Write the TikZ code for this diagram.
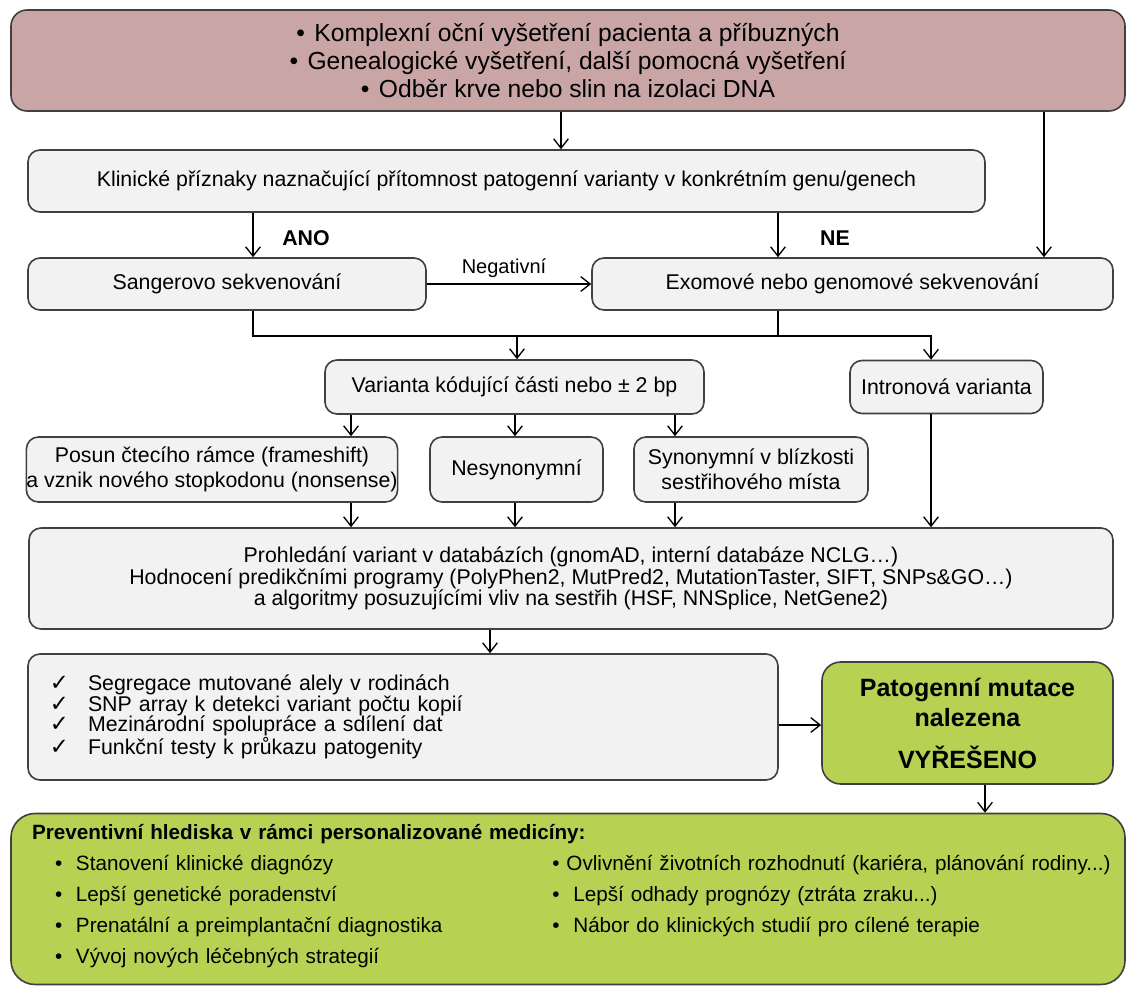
\documentclass[tikz,border=0pt]{standalone}
\usepackage{fontspec}
\setmainfont{Liberation Sans}
\newfontfamily\symfont{DejaVu Sans}
\usetikzlibrary{arrows.meta}
\definecolor{rosybox}{RGB}{201,165,165}
\definecolor{limebox}{RGB}{183,209,82}
\definecolor{greybox}{RGB}{242,242,242}
\definecolor{edgegrey}{RGB}{64,64,64}
\setlength{\lineskiplimit}{-20pt}

\tikzset{
  stage/.style={draw=edgegrey, line width=1.2pt, fill=greybox, rounded corners=9pt,
    inner sep=0pt, align=center, font=\fontsize{16}{19}\selectfont},
  conn/.style={line width=1pt, -{Straight Barb[length=7pt,width=11pt]}},
  plain/.style={line width=1pt},
  flag/.style={font=\bfseries\fontsize{16}{19}\selectfont},
}
\newcommand{\tick}{\makebox[28.5pt][l]{\symfont\fontsize{17}{15}\selectfont ✓}}

\begin{document}
\begin{tikzpicture}[x=0.75pt,y=-0.75pt]
            \useasboundingbox (0,0) rectangle (1129,988);
            % column positions of the connectors
            \coordinate (xa) at (561,0);
            \coordinate (xb) at (1044,0);
            \coordinate (xc) at (253,0);
            \coordinate (xd) at (778,0);
            \coordinate (xe) at (517,0);
            \coordinate (xf) at (931,0);
            \coordinate (k1) at (351,0);
            \coordinate (k2) at (515,0);
            \coordinate (k3) at (675,0);
            \coordinate (xg) at (490,0);
            \coordinate (xh) at (985,0);
            \coordinate (jn) at (0,336);
            \coordinate (yh) at (0,725);

            \node[stage, fill=rosybox, rounded corners=12pt, minimum width=1114*0.75pt, minimum height=101*0.75pt,
                  font=\fontsize{18.5}{21}\selectfont] (exam) at (568,60.5)
                  {•\hspace{7pt}Komplexní oční vyšetření pacienta a příbuzných\\
                   •\hspace{7pt}Genealogické vyšetření, další pomocná vyšetření\\
                   •\hspace{7pt}Odběr krve nebo slin na izolaci DNA};
            \node[stage, minimum width=957*0.75pt, minimum height=62*0.75pt] (clin) at (506.5,181)
                  {Klinické příznaky naznačující přítomnost patogenní varianty v konkrétním genu/genech};
            \node[stage, minimum width=398*0.75pt, minimum height=52*0.75pt] (sanger) at (227,284) {Sangerovo sekvenování};
            \node[stage, minimum width=521*0.75pt, minimum height=52*0.75pt] (exome) at (852.5,284) {Exomové nebo genomové sekvenování};
            \node[stage, minimum width=379*0.75pt, minimum height=54*0.75pt] (coding) at (514.5,387) {Varianta kódující části nebo ± 2 bp};
            \node[stage, minimum width=193*0.75pt, minimum height=53*0.75pt] (intron) at (946.5,387) {Intronová varianta};
            \node[stage, minimum width=366*0.75pt, minimum height=65*0.75pt, font=\fontsize{16}{18.75}\selectfont] (frame) at (212,469.5)
                  {Posun čtecího rámce (frameshift)\\a vznik nového stopkodonu (nonsense)};
            \node[stage, minimum width=173*0.75pt, minimum height=65*0.75pt] (missense) at (516.5,469.5) {Nesynonymní};
            \node[stage, minimum width=234*0.75pt, minimum height=65*0.75pt, font=\fontsize{16}{18.75}\selectfont] (synon) at (751,469.5)
                  {Synonymní v blízkosti\\sestřihového místa};
            \node[stage, minimum width=1084*0.75pt, minimum height=101*0.75pt, font=\fontsize{16}{16.1}\selectfont] (dbsearch) at (571,578.5)
                  {Prohledání variant v databázích (gnomAD, interní databáze NCLG…)\\
                   Hodnocení predikčními programy (PolyPhen2, MutPred2, MutationTaster, SIFT, SNPs\&GO…)\\
                   a algoritmy posuzujícími vliv na sestřih (HSF, NNSplice, NetGene2)};
            \node[stage, minimum height=126*0.75pt, align=left, text width=529.5pt, inner xsep=16.5pt,
                  font=\fontsize{16}{15.4}\selectfont] (extra) at (403,717)
                  {\tick Segregace mutované alely v rodinách\\
                   \tick SNP array k detekci variant počtu kopií\\
                   \tick Mezinárodní spolupráce a sdílení dat\\
                   \tick Funkční testy k průkazu patogenity};
            \node[stage, fill=limebox, rounded corners=14pt, minimum width=291*0.75pt, minimum height=122*0.75pt,
                  font=\bfseries\fontsize{18.75}{22.5}\selectfont] (solved) at (967.5,723)
                  {Patogenní mutace\\nalezena\\[9pt]VYŘEŠENO};
            \node[stage, fill=limebox, rounded corners=18pt, minimum height=171*0.75pt, align=left, text width=804pt,
                  inner xsep=15.75pt, font=\fontsize{15.5}{23.25}\selectfont] (prevent) at (568,899)
                  {\textbf{Preventivní hlediska v rámci personalizované medicíny:}\\
                   \begin{tabular}[t]{@{\hspace{17.25pt}}p{373pt}@{}l@{}}
                   •~~Stanovení klinické diagnózy & •~Ovlivnění životních rozhodnutí (kariéra, plánování rodiny...)\\
                   •~~Lepší genetické poradenství & •~~Lepší odhady prognózy (ztráta zraku...)\\
                   •~~Prenatální a preimplantační diagnostika & •~~Nábor do klinických studií pro cílené terapie\\
                   •~~Vývoj nových léčebných strategií & \\
                   \end{tabular}};

            \node[flag] (yes) at (306,238) {ANO};
            \node[flag] (no) at (835,238) {NE};
            \node[font=\fontsize{15}{18}\selectfont] (neg) at (504,268) {Negativní};

            \draw[conn] (exam.south -| xa) -- (clin.north -| xa);
            \draw[conn] (exam.south -| xb) -- (exome.north -| xb);
            \draw[conn] (clin.south -| xc) -- (sanger.north -| xc);
            \draw[conn] (clin.south -| xd) -- (exome.north -| xd);
            \draw[conn] (sanger.east) -- (exome.west);
            \draw[conn] (sanger.south -| xc) |- (jn -| xf) -- (intron.north -| xf);
            \draw[plain] (exome.south -| xd) -- (jn -| xd);
            \draw[conn] (jn -| xe) -- (coding.north -| xe);
            \foreach \b/\k in {frame/k1, missense/k2, synon/k3} {
                \draw[conn] (coding.south -| \k) -- (\b.north -| \k);
                \draw[conn] (\b.south -| \k) -- (dbsearch.north -| \k);
            }
            \draw[conn] (intron.south -| xf) -- (dbsearch.north -| xf);
            \draw[conn] (dbsearch.south -| xg) -- (extra.north -| xg);
            \draw[conn] (extra.east |- yh) -- (solved.west |- yh);
            \draw[conn] (solved.south -| xh) -- (prevent.north -| xh);
        \end{tikzpicture}
\end{document}
